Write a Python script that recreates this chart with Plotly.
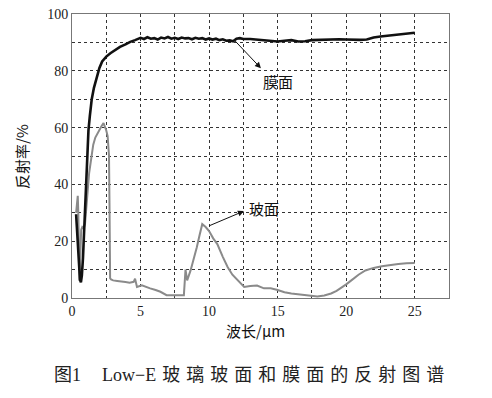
import plotly.graph_objects as go

# 膜面 (film side) reflectance
film_x = [0.3, 0.4, 0.5, 0.58, 0.65, 0.72, 0.8, 0.9, 1.0, 1.1, 1.2, 1.3, 1.44, 1.6, 1.8, 2.0, 2.2,
          2.5, 2.8, 3.2, 3.5, 3.9, 4.25, 4.6, 4.8,
          5.0, 5.25, 5.5, 5.75, 6.0, 6.25, 6.5, 6.75, 7.0, 7.25, 7.5, 7.75, 8.0, 8.25, 8.5, 8.75,
          9.0, 9.25, 9.5, 9.75, 10.0, 10.25, 10.5, 10.75, 11.0, 11.25, 11.5, 11.75, 12.0, 12.25,
          12.5, 13.0, 13.5, 14.0, 14.5, 15.0, 15.5, 16.0, 16.5, 17.0, 17.5, 18.0, 18.5, 19.0,
          19.5, 20.0, 20.5, 21.0, 21.5, 22.0, 22.5, 23.0, 23.5, 24.0, 24.5, 25.0]
film_y = [29.5, 22, 12, 6.5, 5.5, 8, 14, 25, 38, 50, 59, 64, 70, 74, 78, 81, 83.3,
          85, 86.2, 87.5, 88.4, 89.3, 90.2, 90.8, 91.3,
          91.6, 91.2, 91.8, 91.3, 91.5, 91.0, 91.7, 91.4, 91.9, 91.3, 91.6, 91.2, 91.7, 91.4, 91.5, 91.1,
          91.6, 91.3, 91.5, 91.0, 91.4, 91.0, 91.3, 90.8, 91.1, 90.6, 90.7, 90.4, 91.3, 91.5,
          91.2, 91.2, 91.0, 90.7, 90.5, 90.3, 90.6, 90.8, 90.3, 90.4, 90.8, 90.9, 91.0, 91.2,
          91.1, 91.0, 90.9, 90.9, 91.0, 91.7, 92.1, 92.4, 92.7, 93.0, 93.2, 93.4]

# 玻面 (glass side) reflectance
glass_x = [0.3, 0.36, 0.42, 0.46, 0.5, 0.55, 0.6, 0.67, 0.75, 0.85, 0.95, 1.1, 1.25, 1.4, 1.55,
           1.7, 1.85, 2.0, 2.15, 2.3, 2.4, 2.5, 2.6, 2.7, 2.74, 2.78, 2.85, 3.0, 3.3, 3.6, 3.9,
           4.2, 4.5, 4.6, 4.74, 5.1, 5.4, 5.7, 6.1, 6.45, 6.9, 7.3, 7.7, 8.16, 8.28, 8.4, 8.65,
           8.9, 9.1, 9.3, 9.5, 9.75, 10.0, 10.3, 10.6, 11.0, 11.35, 11.7, 12.07, 12.56, 13.0,
           13.5, 14.0, 14.5, 15.0, 15.5, 16.0, 16.6, 17.2, 17.9, 18.4, 18.9, 19.3, 19.6, 20.0,
           20.4, 20.9, 21.4, 22.0, 22.6, 23.2, 23.8, 24.4, 25.0]
glass_y = [30, 34, 36, 30, 14, 6, 14, 24, 25, 24.5, 26, 36, 44, 49, 54,
           56.5, 58, 59, 60.5, 61.6, 60.5, 59, 57, 50, 30, 7, 6.5, 6.2, 6.0, 5.9, 5.6,
           5.4, 5.7, 6.8, 3.9, 4.5, 3.9, 3.4, 2.8, 2.2, 1.0, 1.0, 0.9, 1.0, 10, 6.2, 9.7,
           14, 17.8, 22, 26, 25, 23.6, 21, 19, 14.5, 10.9, 8.2, 6.2, 3.9, 4.2,
           4.4, 3.4, 3.4, 2.8, 2.0, 1.6, 1.2, 1.0, 0.5, 0.9, 1.6, 2.5, 3.4, 4.8,
           6.3, 8.2, 9.7, 10.6, 11.2, 11.7, 12.0, 12.2, 12.3]

x_ticks = [0, 5, 10, 15, 20, 25]
y_ticks = [0, 20, 40, 60, 80, 100]

serif = "Liberation Serif, Times New Roman, serif"
cjk = "Noto Sans CJK SC"

fig = go.Figure()
fig.add_trace(go.Scatter(x=glass_x, y=glass_y, mode="lines",
                         line=dict(color="#8a8a8a", width=2), showlegend=False))
fig.add_trace(go.Scatter(x=film_x, y=film_y, mode="lines",
                         line=dict(color="#111111", width=2.6), showlegend=False))

grid = dict(showgrid=True, gridcolor="#333333", gridwidth=1, griddash="3px,3px")

fig.update_xaxes(range=[0, 27.5], tickvals=x_ticks, ticks="", showline=True, linecolor="#777777",
                 linewidth=1, mirror=True, zeroline=False, ticklabeloverflow="allow", automargin=False,
                 tickfont=dict(family=serif, size=14, color="#222"),
                 minor=dict(dtick=2.5, tick0=0, showgrid=True, gridcolor="#333333", griddash="3px,3px", gridwidth=1),
                 **grid)
fig.update_yaxes(range=[0, 100], tickvals=y_ticks, ticks="", showline=True, linecolor="#777777",
                 linewidth=1, mirror=True, zeroline=False, ticklabeloverflow="allow", automargin=False,
                 tickfont=dict(family=serif, size=14, color="#222"),
                 minor=dict(dtick=10, tick0=0, showgrid=True, gridcolor="#333333", griddash="3px,3px", gridwidth=1),
                 **grid)

OFF = 8  # page body margin
sp = "\u2004"
caption_cn = sp.join("玻璃玻面和膜面的反射图谱")
annotations = [
    # arrows
    dict(x=13.78, y=80.9, ax=11.8, ay=91.0, xref="x", yref="y", axref="x", ayref="y",
         text="", showarrow=True, arrowhead=2, arrowsize=1.2, arrowwidth=1, arrowcolor="#111"),
    dict(x=12.54, y=30.6, ax=9.9, ay=25.2, xref="x", yref="y", axref="x", ayref="y",
         text="", showarrow=True, arrowhead=2, arrowsize=1.2, arrowwidth=1, arrowcolor="#111"),
    dict(x=15.0, y=76.4, xref="x", yref="y", text="膜面", showarrow=False,
         font=dict(family=cjk, size=15, color="#111")),
    dict(x=14.0, y=31.6, xref="x", yref="y", text="玻面", showarrow=False,
         font=dict(family=cjk, size=15, color="#111")),
    # axis titles
    dict(x=21, y=157, xref="paper", yref="paper", text="反射率/%", textangle=-90, showarrow=False,
         font=dict(family=cjk, size=15, color="#111")),
    dict(x=255, y=330, xref="paper", yref="paper", text="波长/μm", showarrow=False,
         font=dict(family=cjk, size=15, color="#111")),
    # caption
    dict(x=67, y=373, xref="paper", yref="paper",
         text="图<span style='font-family:Liberation Serif'>1</span>", showarrow=False,
         font=dict(family=cjk, size=18, color="#222")),
    dict(x=273, y=373, xref="paper", yref="paper",
         text="<span style='font-family:Liberation Serif'>Low\u2212E</span>" + sp + caption_cn,
         showarrow=False, font=dict(family=cjk, size=18, color="#222")),
]

# convert page-pixel annotation positions to paper fractions
W, H = 492 - OFF, 398 - OFF
L, R, T, B = 72 - OFF, 43, 14 - OFF, 100
pw, ph = W - L - R, H - T - B
for a in annotations:
    if a.get("xref") == "paper":
        a["x"] = (a["x"] - OFF - L) / pw
        a["y"] = (H - B - (a["y"] - OFF)) / ph
        a["xanchor"] = "center"
        a["yanchor"] = "middle"

fig.update_layout(width=W, height=H, margin=dict(l=L, r=R, t=T, b=B, autoexpand=False),
                  plot_bgcolor="white", paper_bgcolor="white", annotations=annotations)
fig.write_html("out.html")
